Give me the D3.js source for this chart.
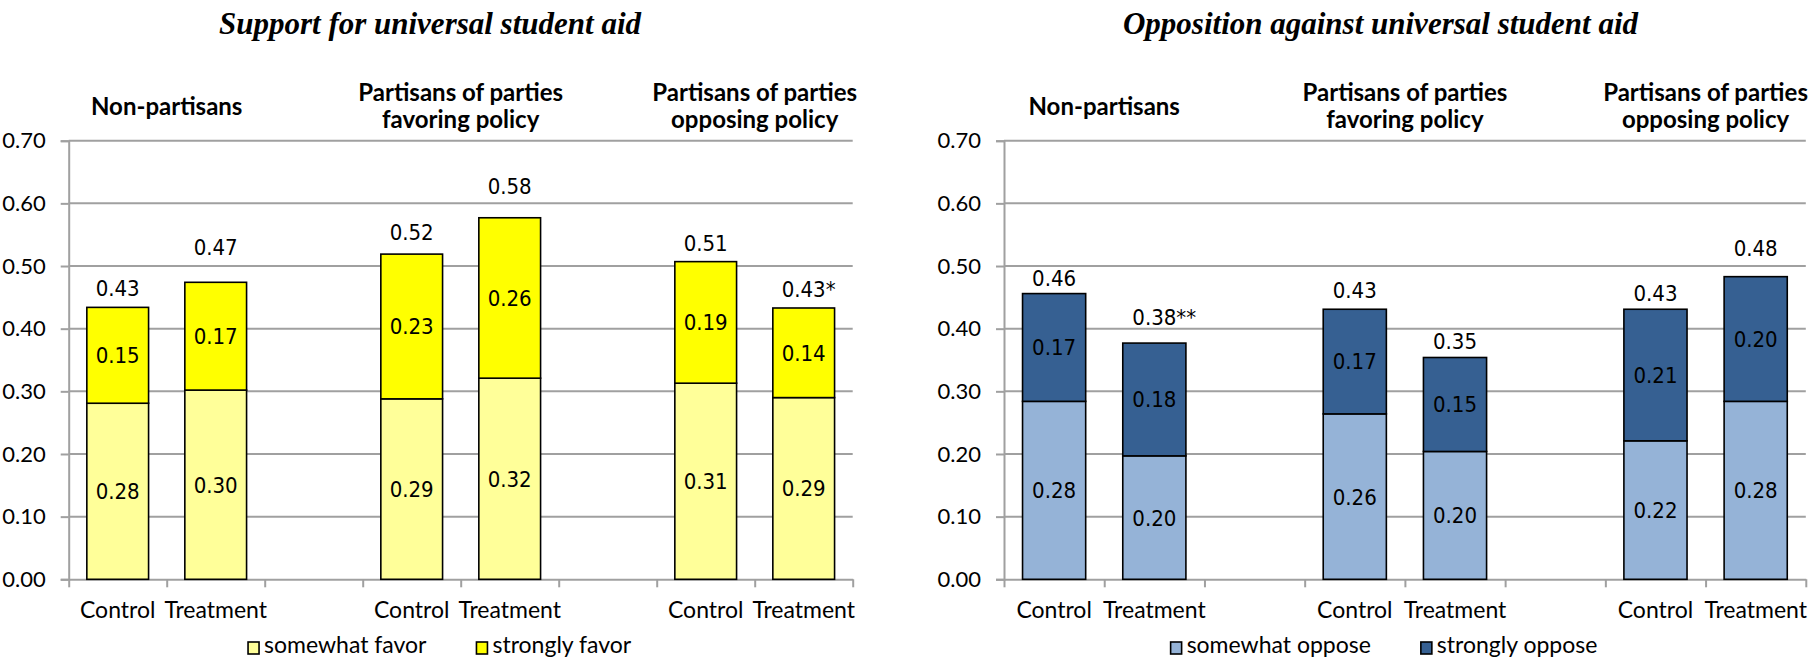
<!DOCTYPE html>
<html>
<head>
<meta charset="utf-8">
<script src="https://cdn.jsdelivr.net/npm/d3@7"></script>
<style>
  html, body { margin: 0; padding: 0; background: #ffffff; }
  svg { display: block; }
</style>
</head>
<body>
<svg id="chart" width="1818" height="659"></svg>
<script>
// ---------------- data ----------------
const slotKeys = ["np-c", "np-t", "gap1", "fav-c", "fav-t", "gap2", "opp-c", "opp-t"];
const barKeys = ["np-c", "np-t", "fav-c", "fav-t", "opp-c", "opp-t"];
const conditionLabels = ["Control", "Treatment", "Control", "Treatment", "Control", "Treatment"];
const groupHeadings = [["Non-partisans"], ["Partisans of parties", "favoring policy"], ["Partisans of parties", "opposing policy"]];
const yTickValues = [0, 0.1, 0.2, 0.3, 0.4, 0.5, 0.6, 0.7];

const supportTitle = "Support for universal student aid";
const supportSeries = ["somewhat favor", "strongly favor"];
const supportSomewhat = [0.281, 0.302, 0.288, 0.321, 0.313, 0.290];
const supportStrongly = [0.153, 0.172, 0.231, 0.256, 0.194, 0.143];
const supportSig = ["", "", "", "", "", "*"];

const opposeTitle = "Opposition against universal student aid";
const opposeSeries = ["somewhat oppose", "strongly oppose"];
const opposeSomewhat = [0.284, 0.197, 0.264, 0.204, 0.221, 0.284];
const opposeStrongly = [0.172, 0.180, 0.167, 0.150, 0.210, 0.199];
const opposeSig = ["", "**", "", "", "", ""];

// ---------------- layout ----------------
const svg = d3.select("#chart");
const fmt = d3.format(".2f");
const SANS = "Lato, 'Noto Sans', sans-serif";
const VALFONT = "'DejaVu Sans Condensed', 'DejaVu Sans', sans-serif";
const GRID = "#a0a0a0";

// layout only: gap (px) between bar top and total-label baseline, as placed in the original
const supportTotalGap = [11, 27, 14, 24, 11, 11];
const opposeTotalGap = [8, 18, 11, 8, 8, 21];

const panels = [
  { title: supportTitle, series: supportSeries, lower: supportSomewhat, upper: supportStrongly, sig: supportSig,
    gap: supportTotalGap, colors: ["#FFFF99", "#FFFF00"], x0: 68.7, x1: 852.7, center: 439.6, titleCenter: 430 },
  { title: opposeTitle, series: opposeSeries, lower: opposeSomewhat, upper: opposeStrongly, sig: opposeSig,
    gap: opposeTotalGap, colors: ["#95B3D7", "#366092"], x0: 1004, x1: 1805.8, center: 1384, titleCenter: 1380.5 }
];

const yTop = 140.7, yBottom = 579.3;

panels.forEach(p => {
  const g = svg.append("g");
  const x = d3.scaleBand().domain(slotKeys).range([p.x0, p.x1]).paddingInner(0.37).paddingOuter(0.185);
  const xi = d3.scaleLinear().domain([0, slotKeys.length]).range([p.x0, p.x1]);
  const y = d3.scaleLinear().domain([0, 0.7]).range([yBottom, yTop]);

  // title
  g.append("text")
    .attr("x", p.titleCenter).attr("y", 34)
    .attr("text-anchor", "middle")
    .attr("font-family", "'Liberation Serif', 'Times New Roman', serif")
    .attr("font-style", "italic").attr("font-weight", "bold")
    .attr("font-size", 31)
    .text(p.title);

  // gridlines
  g.append("g").selectAll("line").data(yTickValues.filter(v => v > 0)).join("line")
    .attr("x1", p.x0).attr("x2", p.x1)
    .attr("y1", d => y(d)).attr("y2", d => y(d))
    .attr("stroke", GRID).attr("stroke-width", 2);

  // y axis
  const yAxis = g.append("g").attr("transform", `translate(${p.x0},0)`)
    .call(d3.axisLeft(y).tickValues(yTickValues).tickFormat(fmt).tickSize(8).tickPadding(15));
  yAxis.select(".domain").attr("stroke", GRID).attr("stroke-width", 2);
  yAxis.selectAll(".tick line").attr("stroke", GRID).attr("stroke-width", 2);
  yAxis.selectAll(".tick text").attr("font-family", SANS).attr("font-size", 22).attr("fill", "#000");

  // x axis
  const xAxis = g.append("g").attr("transform", `translate(0,${yBottom})`)
    .call(d3.axisBottom(xi).tickValues(d3.range(slotKeys.length + 1)).tickFormat("").tickSize(8).tickSizeOuter(0));
  xAxis.select(".domain").attr("stroke", GRID).attr("stroke-width", 2);
  xAxis.selectAll(".tick line").attr("stroke", GRID).attr("stroke-width", 2);

  // bars
  const rows = barKeys.map((k, i) => ({ key: k, lower: p.lower[i], upper: p.upper[i], sig: p.sig[i], gap: p.gap[i], label: conditionLabels[i] }));
  const bw = x.bandwidth();
  const barG = g.append("g");
  barG.selectAll("rect.lower").data(rows).join("rect").attr("class", "lower")
    .attr("x", d => x(d.key)).attr("width", bw)
    .attr("y", d => y(d.lower)).attr("height", d => y(0) - y(d.lower))
    .attr("fill", p.colors[0]).attr("stroke", "#000").attr("stroke-width", 1.6);
  barG.selectAll("rect.upper").data(rows).join("rect").attr("class", "upper")
    .attr("x", d => x(d.key)).attr("width", bw)
    .attr("y", d => y(d.lower + d.upper)).attr("height", d => y(d.lower) - y(d.lower + d.upper))
    .attr("fill", p.colors[1]).attr("stroke", "#000").attr("stroke-width", 1.6);

  // segment labels
  const lblG = g.append("g").attr("font-family", VALFONT).attr("font-size", 22).attr("text-anchor", "middle").attr("fill", "#000");
  lblG.selectAll("text.lowlab").data(rows).join("text").attr("class", "lowlab")
    .attr("x", d => x(d.key) + bw / 2).attr("y", d => (y(0) + y(d.lower)) / 2).attr("dy", "0.36em")
    .text(d => fmt(d.lower));
  lblG.selectAll("text.uplab").data(rows).join("text").attr("class", "uplab")
    .attr("x", d => x(d.key) + bw / 2).attr("y", d => (y(d.lower) + y(d.lower + d.upper)) / 2).attr("dy", "0.36em")
    .text(d => fmt(d.upper));
  // totals
  const tot = lblG.selectAll("text.tot").data(rows).join("text").attr("class", "tot")
    .attr("x", d => x(d.key) + bw / 2).attr("y", d => y(d.lower + d.upper) - d.gap)
    .text(d => fmt(d.lower + d.upper));
  tot.each(function (d) {
    if (!d.sig) return;
    const w = this.getComputedTextLength();
    lblG.append("text").attr("text-anchor", "start")
      .attr("x", x(d.key) + bw / 2 + w / 2).attr("y", y(d.lower + d.upper) - d.gap)
      .text(d.sig);
  });

  // category labels
  g.append("g").selectAll("text").data(rows).join("text")
    .attr("x", d => x(d.key) + bw / 2).attr("y", 618)
    .attr("text-anchor", "middle").attr("font-family", SANS).attr("font-size", 23)
    .text(d => d.label);

  // group headings
  const headG = g.append("g").attr("font-family", SANS).attr("font-weight", "bold").attr("font-size", 24).attr("text-anchor", "middle");
  groupHeadings.forEach((lines, gi) => {
    const cx = xi(gi * 3 + 1);
    const t = headG.append("text").attr("x", cx);
    if (lines.length === 1) {
      t.attr("y", 115).text(lines[0]);
    } else {
      lines.forEach((ln, li) => t.append("tspan").attr("x", cx).attr("y", 101 + li * 27).text(ln));
    }
  });

  // legend
  const leg = g.append("g");
  const items = p.series.map((s, i) => ({ name: s, color: p.colors[i] }));
  let cursor = 0;
  const placed = [];
  items.forEach((it, i) => {
    const ig = leg.append("g");
    ig.append("rect").attr("x", 0).attr("y", 642).attr("width", 11).attr("height", 12)
      .attr("fill", it.color).attr("stroke", "#000").attr("stroke-width", 1.6);
    const tx = ig.append("text").attr("x", 16).attr("y", 653)
      .attr("font-family", SANS).attr("font-size", 23).text(it.name);
    const w = 16 + tx.node().getComputedTextLength();
    placed.push({ ig, offset: cursor });
    cursor += w + (i < items.length - 1 ? 50 : 0);
  });
  const start = p.center - cursor / 2;
  placed.forEach(pl => pl.ig.attr("transform", `translate(${start + pl.offset},0)`));
});
</script>
</body>
</html>
